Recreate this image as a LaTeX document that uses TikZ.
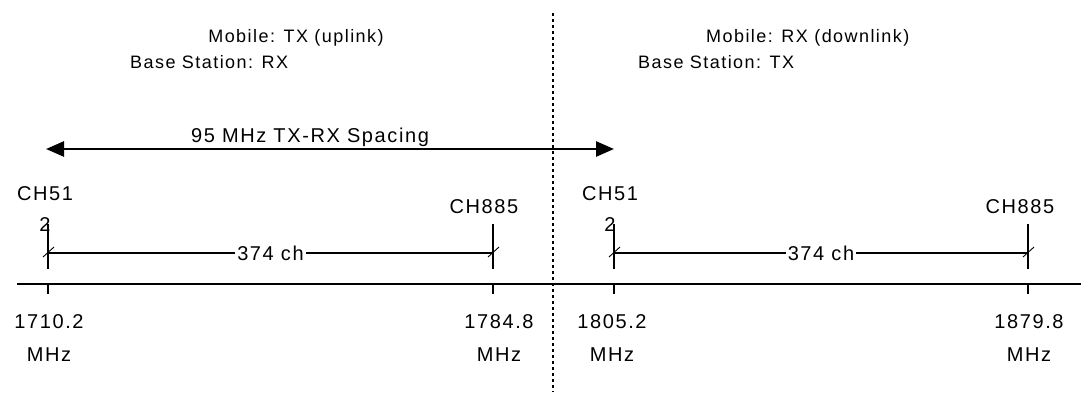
\documentclass[tikz,border=0pt]{standalone}
\usepackage{fontspec}
\setmainfont{Liberation Sans}[LetterSpace=8]
\usetikzlibrary{arrows.meta,positioning}

\begin{document}
\begin{tikzpicture}[
  x=1pt, y=-1pt,
  lbl/.style={inner sep=0pt, align=center, font=\fontsize{20}{31}\selectfont},
  head/.style={lbl, font=\fontsize{18}{22}\selectfont},
  freq/.style={lbl, font=\fontsize{20}{33}\selectfont},
  axisline/.style={line width=2.2pt},
  chline/.style={line width=1.8pt},
  span/.style={line width=1.8pt},
  slash/.style={line width=0.9pt},
  spacing/.style={{Triangle[length=18pt,width=15pt]}-{Triangle[length=18pt,width=15pt]}, line width=2.6pt},
  divider/.style={line width=1.8pt, dash pattern=on 3pt off 3pt}
]
\useasboundingbox (0,0) rectangle (1081,394);

% band split
\coordinate (divtop) at (553,13);
\coordinate (divbot) at (553,392);
\draw[divider] (divtop) -- (divbot);

% headings
\node[head] (uphead) at (296,38) {Mobile: TX (uplink)};
\node[head, anchor=west] (upbs) at (130,62) {Base Station: RX};
\node[head, anchor=west] (dnhead) at (706,38) {Mobile: RX (downlink)};
\node[head, anchor=west] (dnbs) at (638,62) {Base Station: TX};

% duplex spacing
\coordinate (spL) at (46,149);
\coordinate (spR) at (614,149);
\draw[spacing] (spL) -- (spR);
\node[lbl, anchor=south] (splbl) at (310,147) {95 MHz TX-RX Spacing};

% frequency axis
\coordinate (axL) at (17,284);
\coordinate (axR) at (1081,284);
\draw[axisline] (axL) -- (axR);
\foreach \n/\x in {a/48,b/493,c/614,d/1028}{
  \coordinate (t\n) at (\x,284);
  \draw[chline] (t\n) -- ++(0,10);
  \coordinate (c\n) at (\x,253);
  \draw[chline] (\x,224) -- (\x,269);
  \draw[slash] ([shift={(-5,4)}]c\n) -- ([shift={(6,-6)}]c\n);
}

% channel counts
\draw[span] (ca) -- node[lbl, fill=white, inner xsep=2pt] (cnt1) {374 ch} (cb);
\draw[span] (cc) -- node[lbl, fill=white, inner xsep=2pt] (cnt2) {374 ch} (cd);

% channel names
\node[lbl] (ch51a) at (45,209) {CH51\\2};
\node[lbl] (ch885a) at (484,207) {CH885};
\node[lbl] (ch51b) at (610,209) {CH51\\2};
\node[lbl] (ch885b) at (1020,207) {CH885};

% band edges
\node[freq] (f1) at (49,338) {1710.2\\MHz};
\node[freq] (f2) at (499,338) {1784.8\\MHz};
\node[freq] (f3) at (612,338) {1805.2\\MHz};
\node[freq] (f4) at (1029,338) {1879.8\\MHz};
\end{tikzpicture}
\end{document}
